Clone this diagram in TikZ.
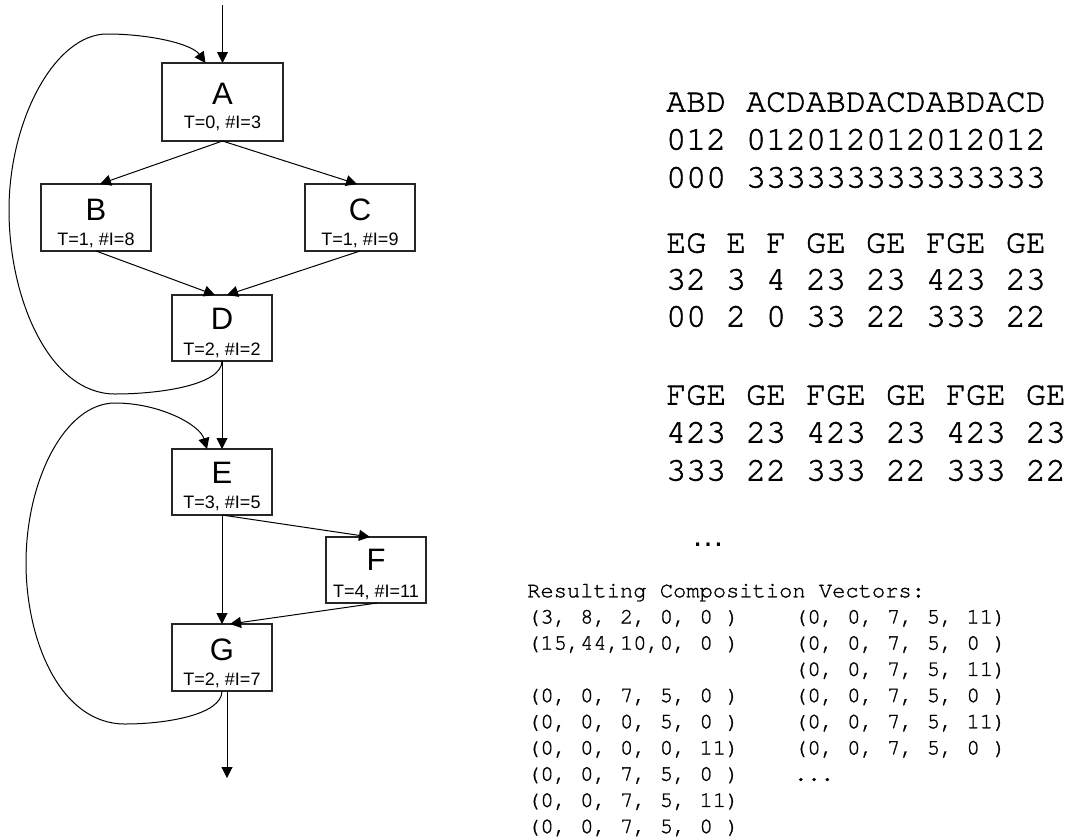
\documentclass[tikz,border=0pt]{standalone}
\usepackage{fontspec}
\setmainfont{Liberation Sans}
\newfontfamily\monofont[FakeBold=1.6]{texgyrecursor-regular.otf}
\newfontfamily\monosmall[FakeBold=1.2]{texgyrecursor-regular.otf}
\usetikzlibrary{arrows.meta}
\begin{document}
\begin{tikzpicture}[x=1pt,y=-1pt,
  box/.style={draw=black!85, line width=1.1pt, inner sep=0pt, outer sep=0pt, rectangle},
  lett/.style={font=\fontsize{31}{31}\selectfont, inner sep=0pt, anchor=base},
  sub/.style={font=\fontsize{18}{18}\selectfont, inner sep=0pt, anchor=base},
  arr/.style={line width=1pt, -{Triangle[width=11pt,length=11pt]}},
  mono/.style={font=\monofont\fontsize{33.3}{35}\selectfont, anchor=base west, inner sep=0pt},
  small/.style={font=\monosmall\fontsize{22.1}{26}\selectfont, anchor=base west, inner sep=0pt}]
\useasboundingbox (0,0) rectangle (1070,838);

% boxes
\node[box, minimum width=121pt, minimum height=78pt] (A) at (222.5,102) {};
\node[box, minimum width=110pt, minimum height=67pt] (B) at (96,217.5) {};
\node[box, minimum width=110pt, minimum height=67pt] (C) at (360,217.5) {};
\node[box, minimum width=100pt, minimum height=66pt] (D) at (222,328) {};
\node[box, minimum width=100pt, minimum height=66pt] (E) at (222,482) {};
\node[box, minimum width=100pt, minimum height=66pt] (F) at (376,570) {};
\node[box, minimum width=100pt, minimum height=67pt] (G) at (222,657.5) {};

% labels
\node[lett] (Al) at (222.5,104) {A};
\node[sub]  (As) at (222.5,128) {T=0, \#I=3};
\node[lett] (Bl) at (96,220) {B};
\node[sub]  (Bs) at (96,245) {T=1, \#I=8};
\node[lett] (Cl) at (360,220) {C};
\node[sub]  (Cs) at (360,245) {T=1, \#I=9};
\node[lett] (Dl) at (222,329) {D};
\node[sub]  (Ds) at (222,355) {T=2, \#I=2};
\node[lett] (El) at (222,483) {E};
\node[sub]  (Es) at (222,508.5) {T=3, \#I=5};
\node[lett] (Fl) at (376,570) {F};
\node[sub]  (Fs) at (376,597) {T=4, \#I=11};
\node[lett] (Gl) at (222,660) {G};
\node[sub]  (Gs) at (222,685) {T=2, \#I=7};

% connectors
\coordinate (in) at (222.5,5);
\coordinate (out) at (227,778);
\draw[arr] (in) -- (A.north);
\draw[arr] (A.south) -- ([xshift=4pt]B.north);
\draw[arr] (A.south) -- ([xshift=-3pt]C.north);
\draw[arr] (B.south) -- ([xshift=-7pt]D.north);
\draw[arr] (C.south) -- ([xshift=5pt]D.north);
\draw[arr] (D.south) -- (E.north);
\draw[arr] (E.south) -- (G.north);
\draw[arr] (E.south) -- ([xshift=-6pt]F.north);
\draw[arr] ([xshift=1pt]F.south) -- ([xshift=8pt]G.north);
\draw[arr] ([xshift=5pt]G.south) -- (out);

% loops
\draw[arr] (D.south) .. controls +(0,24) and (160,394) .. (115,394)
  .. controls (50,394) and (9,300) .. (9,210)
  .. controls (9,120) and (55,34) .. (107,34)
  .. controls (150,34) and (192,44) .. ([xshift=-17pt]A.north);
\draw[arr] (G.south) .. controls +(0,24) and (165,724) .. (125,724)
  .. controls (60,724) and (26,640) .. (26,563)
  .. controls (26,480) and (65,403) .. (115,403)
  .. controls (160,403) and (200,425) .. ([xshift=-15pt]E.north);

% trace text
\node[mono] (t1) at (666,111.5) {ABD ACDABDACDABDACD};
\node[mono] (t2) at (666,149.5) {012 012012012012012};
\node[mono] (t3) at (666,187.5) {000 333333333333333};
\node[mono] (t4) at (666,252.5) {EG E F GE GE FGE GE};
\node[mono] (t5) at (666,289.5) {32 3 4 23 23 423 23};
\node[mono] (t6) at (666,326.5) {00 2 0 33 22 333 22};
\node[mono] (t7) at (666,404.5) {FGE GE FGE GE FGE GE};
\node[mono] (t8) at (666,442.5) {423 23 423 23 423 23};
\node[mono] (t9) at (666,480.5) {333 22 333 22 333 22};
\node[anchor=base, inner sep=0pt, font=\fontsize{33}{33}\selectfont] (dots) at (708,546) {…};

% composition vectors
\node[small] (v0) at (527,597.3) {Resulting Composition Vectors:};
\node[small] (v1) at (527,623.5) {(3, 8, 2, 0, 0 )};
\node[small] (v2) at (527,649.7) {(15,44,10,0, 0 )};
\node[small] (v4) at (527,702.1) {(0, 0, 7, 5, 0 )};
\node[small] (v5) at (527,728.3) {(0, 0, 0, 5, 0 )};
\node[small] (v6) at (527,754.5) {(0, 0, 0, 0, 11)};
\node[small] (v7) at (527,780.7) {(0, 0, 7, 5, 0 )};
\node[small] (v8) at (527,806.9) {(0, 0, 7, 5, 11)};
\node[small] (v9) at (527,833.1) {(0, 0, 7, 5, 0 )};
\node[small] (w1) at (794,623.5) {(0, 0, 7, 5, 11)};
\node[small] (w2) at (794,649.7) {(0, 0, 7, 5, 0 )};
\node[small] (w3) at (794,675.9) {(0, 0, 7, 5, 11)};
\node[small] (w4) at (794,702.1) {(0, 0, 7, 5, 0 )};
\node[small] (w5) at (794,728.3) {(0, 0, 7, 5, 11)};
\node[small] (w6) at (794,754.5) {(0, 0, 7, 5, 0 )};
\node[small] (w7) at (794,780.7) {...};
\end{tikzpicture}
\end{document}
